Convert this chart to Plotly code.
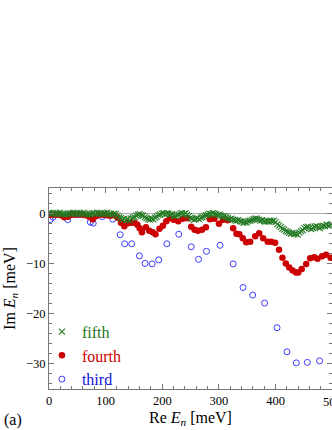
import plotly.graph_objects as go

# ---- data ----
third_x = [2, 7, 33, 51, 73, 78, 94, 112.5, 125.6, 133.5, 146, 159.6, 169.6, 182, 193.7,
           208, 229, 251, 264, 278, 302, 325, 342.5, 359.5, 380.6, 402.5, 420, 436.5, 456, 477.6]
third_y = [-1.3, -0.8, -1.3, -0.3, -1.8, -2.0, -0.7, -1.2, -4.3, -6.1, -6.1, -8.5, -10.0, -10.1, -9.3,
           -6.1, -4.2, -6.7, -9.2, -7.6, -6.4, -10.1, -14.8, -16.3, -17.9, -22.8, -27.6, -29.8, -29.7, -29.4]

fourth_x = [2, 8, 14, 21, 27, 33, 40, 46, 52, 58,
            65, 71, 77, 83, 90, 96, 102, 108, 115, 121,
            127, 133, 139, 145, 151, 156, 160, 164, 171, 177,
            183, 188, 195, 201, 207, 213, 220, 228, 236, 244,
            251, 257, 263, 270, 277, 284, 292, 300, 307, 315,
            325, 331, 336, 342, 348, 355, 364, 371, 378, 386,
            392, 399, 406, 412, 418, 424, 430, 436, 440, 446,
            454, 461, 468, 474, 482, 489, 497]
fourth_y = [-0.3, -0.3, -0.3, -0.4, -0.8, -0.7, -0.3, -0.3, -0.2, -0.3,
            -0.4, -0.7, -1.2, -0.6, -0.3, -0.3, -0.4, -0.5, -0.4, -0.9,
            -1.9, -2.6, -2.0, -1.9, -1.9, -2.3, -3.0, -3.8, -2.8, -3.5,
            -3.8, -4.2, -3.1, -2.5, -1.6, -1.0, -1.3, -1.6, -1.1, -1.0,
            -2.7, -3.3, -3.5, -3.3, -2.8, -1.2, -1.1, -2.1, -1.3, -1.4,
            -3.0, -4.1, -4.2, -5.0, -5.8, -5.7, -4.6, -4.0, -5.0, -5.7,
            -5.7, -5.9, -7.3, -8.9, -10.0, -10.8, -11.4, -11.8, -11.8, -11.1,
            -10.1, -9.0, -8.8, -9.1, -8.6, -8.3, -8.9]

fifth_x = [1, 4, 7, 10, 13, 16, 19, 22, 25, 28,
           31, 34, 37, 40, 43, 46, 49, 52, 55, 58,
           61, 64, 67, 70, 73, 76, 79, 82, 85, 88,
           91, 94, 97, 100, 103, 106, 109, 112, 115, 118,
           121, 124, 127, 130, 133, 136, 139, 142, 145, 148,
           151, 154, 157, 160, 163, 166, 169, 172, 175, 178,
           181, 184, 187, 190, 193, 196, 199, 202, 205, 208,
           211, 214, 217, 220, 223, 226, 229, 232, 235, 238,
           241, 244, 247, 250, 253, 256, 259, 262, 265, 268,
           271, 274, 277, 280, 283, 286, 289, 292, 295, 298,
           301, 304, 307, 310, 313, 316, 319, 322, 325, 328,
           331, 334, 337, 340, 343, 346, 349, 352, 355, 358,
           361, 364, 367, 370, 373, 376, 379, 382, 385, 388,
           391, 394, 397, 400, 403, 406, 409, 412, 415, 418,
           421, 424, 427, 430, 433, 436, 439, 442, 445, 448,
           451, 454, 457, 460, 463, 466, 469, 472, 475, 478,
           481, 484, 487, 490, 493, 496, 499]
fifth_y = [0.1, -0.1, 0.0, -0.2, 0.0, -0.1, 0.1, -0.1, -0.2, -0.3,
           -0.2, -0.1, 0.0, -0.1, 0.1, -0.1, 0.0, -0.2, 0.0, -0.1,
           0.1, -0.1, -0.2, -0.3, -0.2, -0.1, 0.0, -0.1, 0.1, -0.1,
           0.0, -0.2, 0.0, -0.1, 0.1, -0.2, -0.1, -0.3, -0.1, -0.2,
           -0.5, -0.8, -1.0, -1.3, -1.1, -1.4, -1.2, -1.5, -1.1, -0.9,
           -0.8, -0.5, -0.3, -0.2, -0.4, -0.5, -0.8, -1.0, -1.2, -1.3,
           -1.1, -1.2, -0.9, -0.7, -0.4, -0.3, -0.1, 0.0, -0.2, 0.0,
           -0.1, -0.3, -0.2, -0.5, -0.6, -0.4, -0.3, -0.1, 0.0, -0.2,
           0.0, -0.3, -0.6, -0.9, -1.1, -1.3, -1.2, -1.0, -1.2, -0.9,
           -0.8, -0.6, -0.4, -0.3, -0.1, -0.2, 0.0, -0.1, -0.2, -0.4,
           -0.3, -0.5, -0.7, -0.6, -0.8, -1.0, -1.2, -1.1, -1.3, -1.4,
           -1.5, -1.4, -1.6, -1.7, -1.9, -1.8, -1.9, -1.6, -1.5, -1.4,
           -1.2, -1.1, -1.1, -1.3, -1.5, -1.4, -1.6, -1.7, -1.6, -1.7,
           -1.5, -1.6, -1.5, -1.8, -2.2, -2.5, -2.8, -3.1, -3.3, -3.6,
           -3.7, -3.9, -4.1, -4.0, -4.2, -4.1, -4.3, -3.9, -3.6, -3.4,
           -3.0, -2.8, -2.7, -3.0, -3.2, -3.0, -2.7, -2.6, -2.8, -3.0,
           -2.7, -2.5, -2.6, -2.3, -2.5, -2.4, -2.2]

x_ticks = [0, 100, 200, 300, 400]
y_ticks = [-30, -20, -10, 0]

GREEN = "#237a23"
RED = "#cc0000"
BLUE = "#3c3cff"
FRAME = "#777777"
FONT = "Liberation Serif"

fig = go.Figure()
fig.add_trace(go.Scatter(
    x=third_x, y=third_y, mode="markers",
    name='<span style="color:#1010e0">third</span>',
    marker=dict(symbol="circle-open", size=6, color=BLUE, line=dict(width=1, color=BLUE)),
))
fig.add_trace(go.Scatter(
    x=fourth_x, y=fourth_y, mode="markers",
    name='<span style="color:#cc0000">fourth</span>',
    marker=dict(symbol="circle", size=6.5, color=RED, line=dict(width=0)),
))
fig.add_trace(go.Scatter(
    x=fifth_x, y=fifth_y, mode="markers",
    name='<span style="color:#1f761f">fifth</span>',
    marker=dict(symbol="x-thin", size=6, color=GREEN, line=dict(width=1.1, color=GREEN)),
))

axis_common = dict(
    showline=True, linecolor=FRAME, linewidth=1, mirror="allticks",
    ticks="inside", ticklen=5, tickcolor=FRAME, tickwidth=1,
    showgrid=False, automargin=False,
    tickfont=dict(family=FONT, size=12.5, color="black"),
)

fig.update_xaxes(
    range=[0, 499.5], tickvals=x_ticks, zeroline=False,
    minor=dict(dtick=20, tick0=0, ticks="inside", ticklen=3, tickcolor=FRAME, showgrid=False),
    title=dict(text="Re <i>E</i><sub><i>n</i></sub> [meV]", font=dict(family=FONT, size=16, color="black"),
               standoff=4),
    **axis_common,
)
fig.update_yaxes(
    range=[-35, 5], tickvals=y_ticks,
    zeroline=True, zerolinecolor="#aaaaaa", zerolinewidth=1,
    minor=dict(dtick=2, tick0=0, ticks="inside", ticklen=3, tickcolor=FRAME, showgrid=False),
    title=dict(text="Im <i>E</i><sub><i>n</i></sub> [meV]", font=dict(family=FONT, size=16, color="black"),
               standoff=6),
    **axis_common,
)

fig.add_annotation(text="500", xref="paper", yref="paper", x=1.001, y=-0.02,
                   xanchor="center", yanchor="top", showarrow=False,
                   font=dict(family=FONT, size=12.5, color="black"))
fig.add_annotation(text="(a)", xref="paper", yref="paper", x=-0.166, y=-0.155,
                   xanchor="left", yanchor="middle", showarrow=False,
                   font=dict(family=FONT, size=16, color="black"))

fig.update_layout(
    width=332, height=430,
    margin=dict(l=49, r=0, t=188, b=41, autoexpand=False),
    paper_bgcolor="white", plot_bgcolor="white",
    font=dict(family=FONT, size=16, color="black"),
    legend=dict(x=-0.025, y=0.37, xanchor="left", yanchor="top",
                traceorder="reversed", bgcolor="rgba(0,0,0,0)",
                font=dict(family=FONT, size=16), itemwidth=30,
                tracegroupgap=0),
    showlegend=True,
)

fig.write_html("out.html", config={"displayModeBar": False},
               post_script="document.body.style.margin='0';")
